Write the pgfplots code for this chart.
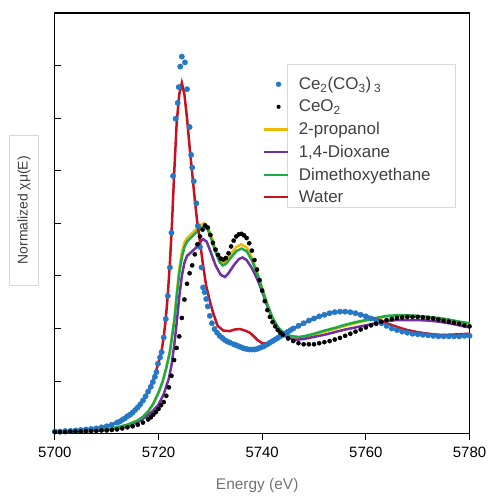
\documentclass[border=0pt]{standalone}
\usepackage{fontspec}
\setmainfont{Liberation Sans}
\usepackage{pgfplots}
\pgfplotsset{compat=1.18}

\definecolor{cBlue}{RGB}{36,120,200}
\definecolor{cRed}{RGB}{200,16,30}
\definecolor{cYellow}{RGB}{240,185,0}
\definecolor{cPurple}{RGB}{112,48,160}
\definecolor{cGreen}{RGB}{30,170,70}

\begin{document}
\begin{tikzpicture}
\begin{axis}[
    name=ax,
    scale only axis,
    width=416bp, height=422bp,
    xmin=5700, xmax=5780, ymin=0, ymax=8,
    xtick={5700,5720,5740,5760,5780},
    ytick={1,2,...,7},
    yticklabels={},
    xtick pos=bottom, ytick pos=left,
    tick align=outside,
    major tick length=6bp,
    tick style={black, line width=1bp},
    ytick style={xshift=6bp},
    axis line style={line width=1.3bp},
    /pgf/number format/assume math mode=true,
    /pgf/number format/1000 sep={},
    xticklabel style={font=\fontsize{15bp}{18bp}\selectfont, text=black, yshift=-4bp},
    xlabel={Energy (eV)},
    xlabel style={at={(rel axis cs:0.488,0)}, anchor=center, yshift=-52bp,
        font=\fontsize{15.5bp}{18bp}\selectfont, text=black!55},
    ylabel={Normalized χμ(E)},
    ylabel style={at={(rel axis cs:-0.0745,0.531)}, anchor=center,
        draw=black!15, line width=0.8bp, inner xsep=21bp, inner ysep=8bp,
        font=\fontsize{14bp}{16bp}\selectfont, text=black!75},
    legend style={at={(rel axis cs:0.5,0.852)}, anchor=north west,
        draw=none, fill=none, font=\fontsize{17bp}{20bp}\selectfont, text=black!75,
        row sep=5bp, inner sep=0pt,
        /tikz/every odd column/.append style={column sep=8bp}},
    legend cell align=left,
]
\draw[black!15, line width=0.8bp] (rel axis cs:0.560,0.877) rectangle (rel axis cs:0.966,0.538);

% 2-propanol
\addplot[cYellow, line width=2.5bp, forget plot] coordinates {
(5700,0.03)(5705,0.04)(5708,0.06)(5710,0.08)(5712,0.12)(5714,0.17)(5716,0.25)(5717,0.32)(5718,0.42)(5719,0.57)(5720,0.78)(5720.8,0.99)(5721.5,1.25)(5722.2,1.58)(5722.7,1.93)(5723.1,2.22)(5723.5,2.65)(5724,3.12)(5724.5,3.45)(5725,3.63)(5725.5,3.72)(5726,3.76)(5727,3.86)(5728,3.96)(5728.8,4.00)(5729.5,3.93)(5730.2,3.76)(5731,3.50)(5731.8,3.31)(5732.4,3.26)(5733,3.29)(5734,3.42)(5735,3.55)(5736,3.60)(5737,3.54)(5738,3.35)(5739,3.08)(5740,2.77)(5741,2.46)(5742,2.20)(5743,2.02)(5744,1.92)(5745,1.86)(5746,1.83)(5747,1.82)(5748,1.83)(5750,1.88)(5752,1.94)(5754,1.99)(5756,2.05)(5758,2.10)(5760,2.15)(5762,2.19)(5764,2.23)(5766,2.24)(5768,2.24)(5770,2.23)(5772,2.21)(5774,2.19)(5776,2.16)(5778,2.12)(5780,2.09)
};
% 1,4-Dioxane
\addplot[cPurple, line width=2.5bp, forget plot] coordinates {
(5700,0.03)(5705,0.04)(5710,0.07)(5712,0.10)(5714,0.15)(5716,0.22)(5718,0.35)(5719,0.44)(5720,0.55)(5721,0.75)(5722,1.05)(5722.5,1.30)(5723,1.65)(5723.5,2.10)(5724,2.60)(5724.5,3.00)(5725,3.25)(5725.5,3.38)(5726.5,3.47)(5727.3,3.54)(5728,3.64)(5728.6,3.70)(5729.3,3.65)(5730,3.47)(5731,3.20)(5732,3.02)(5732.8,2.98)(5733.5,3.05)(5734.5,3.20)(5735.5,3.32)(5736.2,3.35)(5737,3.30)(5738,3.15)(5739,2.95)(5740,2.70)(5741,2.42)(5742,2.18)(5743,2.00)(5744,1.88)(5745,1.82)(5746,1.79)(5747,1.79)(5748,1.80)(5750,1.84)(5752,1.88)(5754,1.93)(5756,1.98)(5758,2.02)(5760,2.06)(5762,2.10)(5764,2.14)(5766,2.16)(5768,2.16)(5770,2.16)(5772,2.15)(5774,2.13)(5776,2.10)(5778,2.06)(5780,2.02)
};
% Dimethoxyethane
\addplot[cGreen, line width=2.5bp, forget plot] coordinates {
(5700,0.03)(5705,0.04)(5708,0.06)(5710,0.08)(5712,0.12)(5714,0.17)(5716,0.25)(5717,0.32)(5718,0.42)(5719,0.57)(5720,0.78)(5720.8,0.99)(5721.5,1.25)(5722.2,1.55)(5722.7,1.90)(5723.1,2.18)(5723.5,2.60)(5724,3.05)(5724.5,3.35)(5725,3.55)(5725.5,3.65)(5726,3.70)(5727,3.80)(5728,3.90)(5728.8,3.94)(5729.5,3.88)(5730.2,3.70)(5731,3.45)(5731.8,3.26)(5732.4,3.20)(5733,3.23)(5734,3.35)(5735,3.47)(5736,3.52)(5737,3.47)(5738,3.30)(5739,3.05)(5740,2.75)(5741,2.45)(5742,2.20)(5743,2.03)(5744,1.93)(5745,1.87)(5746,1.85)(5747,1.84)(5748,1.85)(5750,1.90)(5752,1.96)(5754,2.01)(5756,2.07)(5758,2.12)(5760,2.16)(5762,2.20)(5764,2.24)(5766,2.25)(5768,2.25)(5770,2.24)(5772,2.22)(5774,2.20)(5776,2.17)(5778,2.13)(5780,2.10)
};
% Ce2(CO3)3
\addplot[only marks, mark=*, mark size=2.7bp, cBlue, mark options={draw=cBlue, fill=cBlue}, forget plot] coordinates {
(5700,0.04)(5701,0.04)(5702,0.05)(5703,0.05)(5704,0.06)(5705,0.07)(5706,0.08)(5707,0.09)(5708,0.10)(5709,0.12)(5710,0.14)(5711,0.17)(5712,0.21)(5712.5,0.23)(5713,0.26)(5713.5,0.29)(5714,0.33)(5714.5,0.36)(5715,0.40)(5715.5,0.45)(5716,0.50)(5716.5,0.56)(5717,0.63)(5717.5,0.71)(5718,0.80)(5718.5,0.89)(5718.9,0.98)(5719.3,1.08)(5719.6,1.17)(5719.9,1.33)(5720.3,1.45)(5720.6,1.55)(5721.0,1.83)(5721.4,2.18)(5721.8,2.62)(5722.2,3.16)(5722.5,3.82)(5722.8,4.90)(5723.3,5.99)(5723.7,6.29)(5723.9,6.59)(5724.2,6.98)(5724.5,7.17)(5725.1,7.06)(5725.5,6.55)(5726.0,5.83)(5726.3,5.30)(5726.5,5.06)(5726.8,4.80)(5727.3,4.38)(5727.6,3.95)(5728.0,3.55)(5728.3,3.16)(5728.6,2.78)(5728.9,2.69)(5729.2,2.56)(5729.5,2.42)(5729.9,2.24)(5730.3,2.10)(5730.8,1.99)(5731.3,1.92)(5731.8,1.86)(5732.3,1.82)(5732.8,1.78)(5733.3,1.75)(5733.8,1.73)(5734.5,1.70)(5735,1.68)(5735.5,1.66)(5736,1.64)(5736.5,1.62)(5737,1.61)(5737.5,1.60)(5738,1.60)(5738.5,1.60)(5739,1.61)(5739.5,1.63)(5740,1.65)(5740.5,1.67)(5741,1.70)(5741.5,1.73)(5742,1.76)(5742.5,1.79)(5743,1.82)(5743.5,1.85)(5744,1.88)(5744.5,1.91)(5745,1.94)(5745.5,1.97)(5746,2.00)(5747,2.05)(5748,2.10)(5749,2.15)(5750,2.19)(5751,2.23)(5752,2.26)(5753,2.29)(5754,2.31)(5755,2.32)(5756,2.32)(5757,2.31)(5758,2.29)(5759,2.26)(5760,2.23)(5761,2.19)(5762,2.15)(5763,2.10)(5764,2.05)(5765,2.00)(5766,1.97)(5767,1.94)(5768,1.92)(5769,1.90)(5770,1.89)(5771,1.88)(5772,1.87)(5773,1.86)(5774,1.85)(5775,1.85)(5776,1.85)(5777,1.85)(5778,1.85)(5779,1.86)(5780,1.86)
};
% CeO2
\addplot[only marks, mark=*, mark size=2.1bp, black, forget plot] coordinates {
(5700,0.03)(5701,0.03)(5702,0.03)(5703,0.04)(5704,0.04)(5705,0.04)(5706,0.05)(5707,0.05)(5708,0.05)(5709,0.06)(5710,0.06)(5711,0.07)(5712,0.08)(5713,0.10)(5714,0.12)(5715,0.14)(5716,0.17)(5717,0.21)(5718,0.27)(5718.5,0.31)(5719,0.36)(5719.5,0.41)(5720,0.47)(5720.5,0.54)(5721,0.60)(5721.5,0.72)(5722,0.88)(5722.5,1.10)(5723,1.40)(5723.5,1.63)(5724,1.85)(5724.5,2.20)(5725,2.55)(5725.5,2.85)(5726,3.05)(5726.5,3.20)(5727,3.41)(5727.5,3.60)(5728,3.75)(5728.5,3.88)(5729,3.96)(5729.5,3.92)(5730,3.78)(5730.5,3.63)(5731,3.50)(5731.5,3.40)(5732,3.33)(5732.5,3.31)(5733,3.34)(5733.5,3.43)(5734,3.56)(5734.5,3.67)(5735,3.75)(5735.5,3.79)(5736,3.80)(5736.5,3.77)(5737,3.72)(5737.5,3.62)(5738,3.48)(5738.5,3.30)(5739,3.12)(5739.5,2.92)(5740,2.72)(5740.5,2.52)(5741,2.35)(5741.5,2.22)(5742,2.12)(5742.5,2.04)(5743,1.97)(5743.5,1.92)(5744,1.88)(5745,1.81)(5746,1.76)(5747,1.72)(5748,1.70)(5749,1.70)(5750,1.70)(5751,1.72)(5752,1.74)(5753,1.76)(5754,1.79)(5755,1.82)(5756,1.86)(5757,1.90)(5758,1.94)(5759,1.98)(5760,2.02)(5761,2.06)(5762,2.09)(5763,2.13)(5764,2.16)(5765,2.18)(5766,2.20)(5767,2.21)(5768,2.22)(5769,2.22)(5770,2.22)(5771,2.21)(5772,2.20)(5773,2.19)(5774,2.17)(5775,2.15)(5776,2.13)(5777,2.11)(5778,2.09)(5779,2.06)(5780,2.04)
};
% Water
\addplot[cRed, line width=2.5bp, forget plot] coordinates {
(5700,0.04)(5703,0.05)(5706,0.08)(5708,0.10)(5710,0.14)(5712,0.21)(5714,0.33)(5716,0.50)(5717,0.63)(5718,0.80)(5719,1.02)(5720,1.35)(5720.6,1.58)(5721.0,1.83)(5721.4,2.18)(5721.8,2.65)(5722.2,3.25)(5722.6,4.00)(5723.0,4.90)(5723.5,5.90)(5724.0,6.45)(5724.5,6.67)(5725.0,6.45)(5725.5,6.00)(5726.0,5.45)(5726.5,4.95)(5727.0,4.45)(5727.5,4.00)(5728.0,3.65)(5728.6,3.20)(5729.2,2.81)(5729.9,2.52)(5730.5,2.31)(5731.4,2.05)(5732.5,1.96)(5733.7,1.95)(5734.7,1.98)(5735.7,1.99)(5736.7,1.96)(5737.6,1.92)(5738.4,1.85)(5739.1,1.78)(5740.0,1.72)(5741,1.71)(5742,1.75)(5743,1.81)(5744,1.87)(5745,1.93)(5746,1.99)(5747,2.05)(5748,2.10)(5749,2.15)(5750,2.19)(5752,2.26)(5754,2.31)(5756,2.32)(5758,2.29)(5760,2.24)(5762,2.18)(5764,2.10)(5766,2.03)(5768,1.97)(5770,1.93)(5772,1.90)(5774,1.88)(5776,1.88)(5778,1.89)(5780,1.90)
};

\addlegendimage{only marks, legend image code/.code={\path[draw=none, fill=none] (0bp,0bp) -- (24bp,0bp); \fill[cBlue, draw=none] (15bp,0bp) circle (2.7bp);}}
\addlegendentry{Ce\textsubscript{2}(CO\textsubscript{3})\,\textsubscript{3}}
\addlegendimage{only marks, legend image code/.code={\path[draw=none, fill=none] (0bp,0bp) -- (24bp,0bp); \fill[black, draw=none] (15bp,0bp) circle (2.1bp);}}
\addlegendentry{CeO\textsubscript{2}}
\addlegendimage{legend image code/.code={\draw[cYellow, line width=2.5bp] (0bp,0bp) -- (24bp,0bp);}}
\addlegendentry{2-propanol}
\addlegendimage{legend image code/.code={\draw[cPurple, line width=2.5bp] (0bp,0bp) -- (24bp,0bp);}}
\addlegendentry{1,4-Dioxane}
\addlegendimage{legend image code/.code={\draw[cGreen, line width=2.5bp] (0bp,0bp) -- (24bp,0bp);}}
\addlegendentry{Dimethoxyethane}
\addlegendimage{legend image code/.code={\draw[cRed, line width=2.5bp] (0bp,0bp) -- (24bp,0bp);}}
\addlegendentry{Water}
\end{axis}
\path ([shift={(-55bp,-61bp)}]ax.south west) rectangle ([shift={(20bp,13bp)}]ax.north east);
\end{tikzpicture}
\end{document}
